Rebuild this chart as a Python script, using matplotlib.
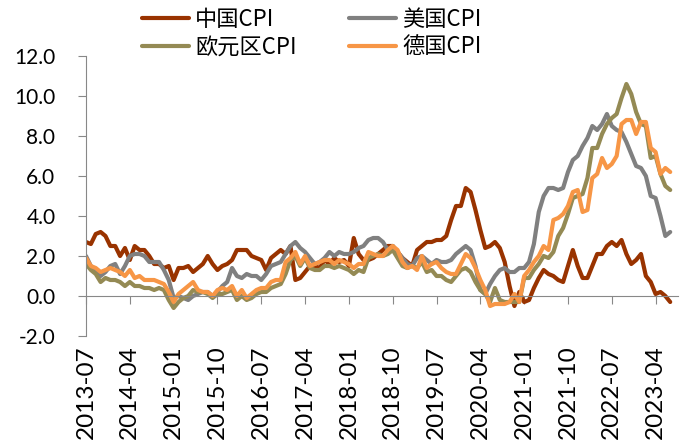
import numpy as np
import pandas as pd
import matplotlib
matplotlib.use('Agg')
import matplotlib.pyplot as plt
from matplotlib.ticker import FormatStrFormatter

# 月度同比，2013-07 ~ 2023-07
months = pd.period_range('2013-07', '2023-07', freq='M').strftime('%Y-%m').tolist()

china = [2.7, 2.6, 3.1, 3.2, 3.0, 2.5,
         2.5, 2.0, 2.4, 1.8, 2.5, 2.3, 2.3, 2.0, 1.6, 1.6, 1.4, 1.5,
         0.8, 1.4, 1.4, 1.5, 1.2, 1.4, 1.6, 2.0, 1.6, 1.3, 1.5, 1.6,
         1.8, 2.3, 2.3, 2.3, 2.0, 1.9, 1.8, 1.3, 1.9, 2.1, 2.3, 2.1,
         2.5, 0.8, 0.9, 1.2, 1.5, 1.5, 1.4, 1.8, 1.6, 1.9, 1.7, 1.8,
         1.5, 2.9, 2.1, 1.8, 1.8, 1.9, 2.1, 2.3, 2.5, 2.5, 2.2, 1.9,
         1.7, 1.5, 2.3, 2.5, 2.7, 2.7, 2.8, 2.8, 3.0, 3.8, 4.5, 4.5,
         5.4, 5.2, 4.3, 3.3, 2.4, 2.5, 2.7, 2.4, 1.7, 0.5, -0.5, 0.2,
         -0.3, -0.2, 0.4, 0.9, 1.3, 1.1, 1.0, 0.8, 0.7, 1.5, 2.3, 1.5,
         0.9, 0.9, 1.5, 2.1, 2.1, 2.5, 2.7, 2.5, 2.8, 2.1, 1.6, 1.8,
         2.1, 1.0, 0.7, 0.1, 0.2, 0.0, -0.3]

usa = [2.0, 1.5, 1.2, 1.0, 1.2, 1.5,
       1.6, 1.1, 1.5, 2.0, 2.1, 2.1, 2.0, 1.7, 1.7, 1.7, 1.3, 0.8,
       -0.1, 0.0, -0.1, -0.2, 0.0, 0.1, 0.2, 0.2, 0.0, 0.2, 0.5, 0.7,
       1.4, 1.0, 0.9, 1.1, 1.0, 1.0, 0.8, 1.1, 1.5, 1.6, 1.7, 2.1,
       2.5, 2.7, 2.4, 2.2, 1.9, 1.6, 1.7, 1.9, 2.2, 2.0, 2.2, 2.1,
       2.1, 2.2, 2.4, 2.5, 2.8, 2.9, 2.9, 2.7, 2.3, 2.5, 2.2, 1.9,
       1.6, 1.5, 1.9, 2.0, 1.8, 1.6, 1.8, 1.7, 1.7, 1.8, 2.1, 2.3,
       2.5, 2.3, 1.5, 0.3, 0.1, 0.6, 1.0, 1.3, 1.4, 1.2, 1.2, 1.4,
       1.4, 1.7, 2.6, 4.2, 5.0, 5.4, 5.4, 5.3, 5.4, 6.2, 6.8, 7.0,
       7.5, 7.9, 8.5, 8.3, 8.6, 9.1, 8.5, 8.3, 8.2, 7.7, 7.1, 6.5,
       6.4, 6.0, 5.0, 4.9, 4.0, 3.0, 3.2]

euro = [1.6, 1.3, 1.1, 0.7, 0.9, 0.8,
        0.8, 0.7, 0.5, 0.7, 0.5, 0.5, 0.4, 0.4, 0.3, 0.4, 0.3, -0.2,
        -0.6, -0.3, -0.1, 0.0, 0.3, 0.2, 0.2, 0.1, -0.1, 0.1, 0.1, 0.2,
        0.3, -0.2, 0.0, -0.2, -0.1, 0.1, 0.2, 0.2, 0.4, 0.5, 0.6, 1.1,
        1.8, 2.0, 1.5, 1.9, 1.4, 1.3, 1.3, 1.5, 1.5, 1.4, 1.5, 1.4,
        1.3, 1.1, 1.3, 1.2, 1.9, 2.0, 2.1, 2.0, 2.1, 2.3, 1.9, 1.5,
        1.4, 1.5, 1.4, 1.7, 1.2, 1.3, 1.0, 1.0, 0.8, 0.7, 1.0, 1.3,
        1.4, 1.2, 0.7, 0.3, 0.1, -0.3, 0.4, -0.2, -0.3, -0.3, -0.3, -0.3,
        0.9, 0.9, 1.3, 1.6, 2.0, 1.9, 2.2, 3.0, 3.4, 4.1, 4.9, 5.0,
        5.1, 5.9, 7.4, 7.4, 8.1, 8.6, 8.9, 9.1, 9.9, 10.6, 10.1, 9.2,
        8.6, 8.5, 6.9, 7.0, 6.1, 5.5, 5.3]

germany = [1.9, 1.5, 1.4, 1.2, 1.3, 1.4,
           1.3, 1.2, 1.0, 1.3, 0.9, 1.0, 0.8, 0.8, 0.8, 0.7, 0.6, 0.2,
           -0.3, 0.1, 0.3, 0.5, 0.7, 0.3, 0.2, 0.2, 0.0, 0.3, 0.4, 0.3,
           0.5, 0.0, 0.3, -0.1, 0.1, 0.3, 0.4, 0.4, 0.7, 0.8, 0.8, 1.7,
           1.9, 2.2, 1.6, 2.0, 1.5, 1.6, 1.7, 1.8, 1.8, 1.6, 1.8, 1.7,
           1.6, 1.4, 1.6, 1.6, 2.2, 2.1, 2.0, 2.0, 2.3, 2.5, 2.3, 1.7,
           1.4, 1.5, 1.3, 2.0, 1.4, 1.6, 1.7, 1.4, 1.2, 1.1, 1.1, 1.6,
           2.1, 1.9, 1.4, 0.8, 0.3, -0.5, -0.4, -0.4, -0.4, -0.3, 0.1, -0.3,
           1.0, 1.3, 1.7, 2.0, 2.5, 2.3, 3.8, 3.9, 4.1, 4.5, 5.2, 5.3,
           4.2, 4.3, 5.9, 6.1, 6.9, 6.4, 6.6, 7.0, 8.6, 8.8, 8.8, 8.1,
           8.7, 8.7, 7.4, 7.2, 6.1, 6.4, 6.2]

labels = ['中国CPI', '美国CPI', '欧元区CPI', '德国CPI']
colors = ['#993300', '#808080', '#948A54', '#F79646']

plt.rcParams['font.family'] = ['Lato', 'DejaVu Sans']
grey = '#888888'

fig = plt.figure(figsize=(6.94, 4.46), dpi=100)
ax = fig.add_axes([86/694, 110/446, 592/694, 280/446])
x = np.arange(len(months))

lines = []
for vals, lab, c in zip([china, usa, euro, germany], labels, colors):
    ln, = ax.plot(x, vals, color=c, lw=3, label=lab,
                  solid_joinstyle='round', solid_capstyle='round')
    lines.append(ln)

ax.set_xlim(0, 121.6)
ax.set_ylim(-2, 12)
ax.set_yticks(np.arange(-2, 13, 2))
ax.yaxis.set_major_formatter(FormatStrFormatter('%.1f'))
for s in ['top', 'right']:
    ax.spines[s].set_visible(False)
ax.spines['left'].set_color(grey)
ax.spines['bottom'].set_color(grey)
ax.spines['bottom'].set_position(('data', 0))
ax.tick_params(axis='y', direction='out', length=6, color=grey,
               labelsize=15, pad=16)
ax.set_xticks(x[::9])
ax.tick_params(axis='x', direction='out', length=6, color=grey,
               labelbottom=False)

sec = ax.secondary_xaxis(0)
sec.set_xticks(x[::9], labels=months[::9])
sec.tick_params(length=0, rotation=90, labelsize=17.5, pad=7)
sec.spines['bottom'].set_visible(False)

# 图例按行排列
order = [0, 2, 1, 3]
fig.legend([lines[i] for i in order], [labels[i] for i in order],
           ncol=2, loc='upper left', bbox_to_anchor=(142/694, 1 - 8/446),
           frameon=False, borderpad=0, borderaxespad=0,
           handlelength=2.1, handletextpad=0.3, columnspacing=2.35,
           labelspacing=0.2,
           prop={'family': ['Noto Sans CJK SC', 'DejaVu Sans'], 'size': 16})

fig.savefig('out.png', dpi=100)
